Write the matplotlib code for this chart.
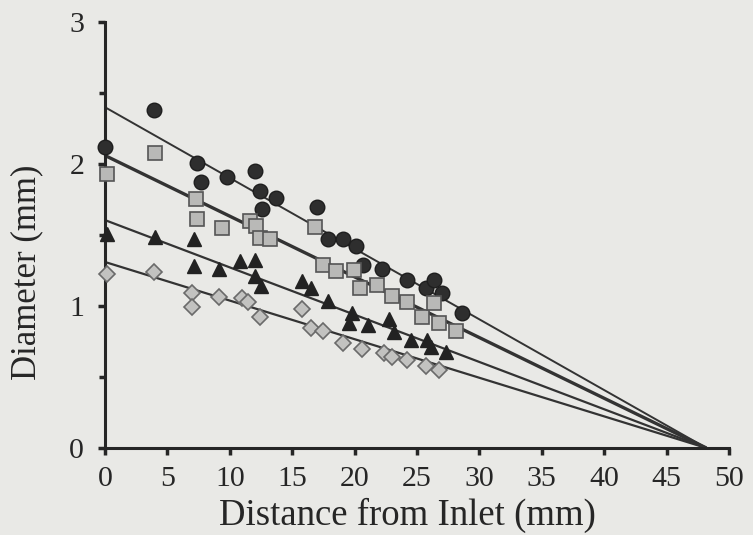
import matplotlib
matplotlib.use("Agg")
import matplotlib.pyplot as plt
from matplotlib.ticker import MultipleLocator

# ---- data ----
circ_x = [0.0, 3.9, 7.4, 7.7, 9.75, 12.0, 12.4, 12.6, 13.7, 17.0, 17.9, 19.1, 20.1, 20.7, 22.2, 24.2, 25.7, 26.4, 27.0, 28.6]
circ_y = [2.12, 2.38, 2.01, 1.87, 1.91, 1.95, 1.81, 1.68, 1.76, 1.70, 1.47, 1.47, 1.42, 1.29, 1.26, 1.185, 1.126, 1.185, 1.09, 0.954]

sq_x = [0.15, 4.0, 7.3, 7.4, 9.4, 11.6, 12.1, 12.4, 13.2, 16.8, 17.5, 18.5, 19.97, 20.4, 21.8, 23.0, 24.2, 25.4, 26.4, 26.8, 28.1]
sq_y = [1.93, 2.076, 1.75, 1.615, 1.55, 1.60, 1.563, 1.476, 1.47, 1.558, 1.29, 1.249, 1.256, 1.13, 1.15, 1.067, 1.03, 0.925, 1.02, 0.883, 0.826]

tri_x = [0.15, 4.0, 7.1, 7.1, 9.1, 10.8, 12.0, 12.0, 12.5, 15.8, 16.5, 17.9, 19.8, 19.55, 21.1, 22.8, 23.2, 24.5, 25.8, 26.1, 27.3]
tri_y = [1.504, 1.488, 1.469, 1.28, 1.263, 1.315, 1.327, 1.209, 1.138, 1.174, 1.126, 1.032, 0.949, 0.878, 0.867, 0.909, 0.819, 0.76, 0.76, 0.713, 0.673]

dia_x = [0.15, 3.9, 7.0, 7.0, 9.1, 11.0, 11.5, 12.4, 15.8, 16.5, 17.5, 19.1, 20.6, 22.4, 23.0, 24.2, 25.7, 26.8]
dia_y = [1.225, 1.237, 1.09, 0.99, 1.063, 1.055, 1.027, 0.925, 0.98, 0.843, 0.826, 0.741, 0.697, 0.666, 0.642, 0.619, 0.579, 0.548]

# fitted lines: diameter at inlet, all converging to zero at x_end
line_start = [2.40, 2.06, 1.605, 1.31]
line_end_x = 48.2

x_ticks = [0, 5, 10, 15, 20, 25, 30, 35, 40, 45, 50]
y_ticks = [0, 1, 2, 3]

plt.rcParams['font.family'] = ['Liberation Serif', 'DejaVu Serif']
bg = '#e9e9e6'
ink = '#262626'

fig = plt.figure(figsize=(7.53, 5.35), dpi=100, facecolor=bg)
ax = fig.add_axes([0.1394, 0.1626, 0.8286, 0.7963])
ax.set_facecolor(bg)

# lines
line_widths = [1.4, 2.4, 1.6, 1.6]
for b, lw in zip(line_start, line_widths):
    ax.plot([0, line_end_x], [b, 0], color='#333333', lw=lw, zorder=2, solid_capstyle='butt')

ax.plot(circ_x, circ_y, 'o', ms=10.5, mfc='#2e2e2e', mec='#1e1e1e', mew=1.0, zorder=3, clip_on=False)
ax.plot(sq_x, sq_y, 's', ms=9.5, mfc='#b9b9b7', mec='#555555', mew=1.2, zorder=3, clip_on=False)
ax.plot(tri_x, tri_y, '^', ms=9.5, mfc='#222222', mec='#222222', mew=1.0, zorder=3, clip_on=False)
ax.plot(dia_x, dia_y, 'D', ms=8.5, mfc='#c2c2c0', mec='#6a6a6a', mew=1.2, zorder=3, clip_on=False)

ax.set_xlim(0, 50)
ax.set_ylim(0, 3)
ax.set_xticks(x_ticks)
ax.set_yticks(y_ticks)
ax.yaxis.set_minor_locator(MultipleLocator(0.5))

for s in ['top', 'right']:
    ax.spines[s].set_visible(False)
for s in ['left', 'bottom']:
    ax.spines[s].set_linewidth(2.2)
    ax.spines[s].set_color(ink)

ax.tick_params(axis='both', which='major', direction='out', length=5, width=2.5, color=ink,
               labelsize=21.5, labelcolor=ink)
ax.tick_params(axis='x', which='major', pad=8)
ax.tick_params(axis='y', which='major', pad=10)
ax.tick_params(axis='y', which='minor', direction='out', length=4, width=2.5, color=ink)

ax.set_xlabel('Distance from Inlet (mm)', fontsize=26.5, color=ink)
ax.set_ylabel('Diameter (mm)', fontsize=25, color=ink)
ax.xaxis.set_label_coords(0.485, -0.117)
ax.yaxis.set_label_coords(-0.0994, 0.413)

fig.savefig('out.png', dpi=100, facecolor=bg)
